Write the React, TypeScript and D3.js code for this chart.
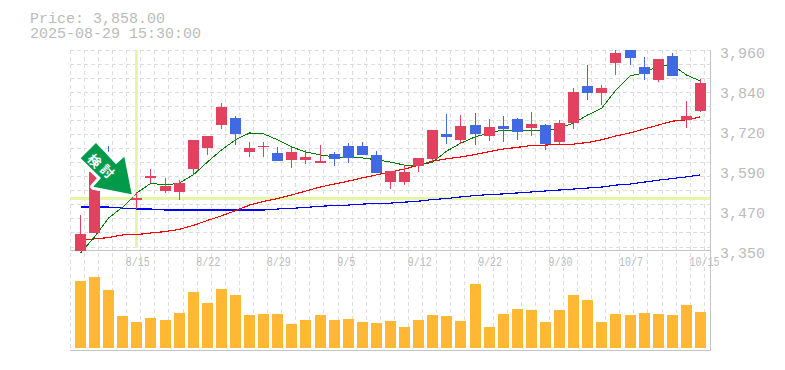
import React from "react";
import * as d3 from "d3";

const W = 785, H = 370;
const opens = [3347,3402,3631,3609,3502,3570,3530,3527,3597,3661,3731,3753,3649,3664,3646,3625,3625,3615,3643,3667,3667,3640,3557,3557,3606,3628,3704,3686,3731,3698,3728,3750,3722,3731,3679,3737,3850,3829,3920,3960,3908,3869,3942,3747,3774];
const closes = [3399,3588,3594,3579,3509,3576,3545,3554,3686,3698,3786,3704,3661,3667,3621,3649,3634,3621,3628,3631,3640,3585,3591,3588,3631,3716,3695,3728,3704,3725,3719,3710,3734,3673,3737,3832,3829,3844,3951,3936,3887,3933,3881,3759,3859];
const highs = [3457,3600,3667,3615,3527,3597,3570,3563,3686,3698,3798,3759,3679,3679,3664,3664,3655,3670,3649,3676,3679,3652,3591,3609,3631,3716,3765,3762,3768,3750,3759,3753,3771,3734,3747,3844,3914,3853,3960,3960,3939,3933,3951,3804,3872];
const lows = [3347,3402,3585,3573,3475,3554,3524,3502,3582,3640,3719,3670,3634,3634,3621,3600,3612,3615,3606,3615,3640,3585,3536,3548,3588,3618,3673,3673,3670,3682,3679,3686,3698,3655,3673,3719,3807,3792,3884,3914,3869,3862,3881,3722,3771];
const volumes = [67,71,58,32,26,30,28,35,56,45,59,53,33,34,34,24,28,33,28,29,26,25,27,21,28,33,32,27,64,21,34,39,38,26,38,53,48,26,34,33,35,34,33,43,36];
const maShort = [3341,3390,3448,3481,3524,3554,3548,3554,3579,3618,3655,3686,3707,3704,3686,3664,3649,3640,3634,3631,3631,3625,3618,3609,3609,3618,3652,3676,3695,3707,3716,3716,3716,3713,3722,3737,3762,3783,3838,3881,3890,3911,3914,3884,3865];
const maMid = [3379,3384,3388,3396,3397,3402,3406,3413,3425,3440,3454,3470,3487,3498,3507,3518,3530,3542,3551,3560,3570,3579,3588,3597,3609,3621,3628,3634,3641,3650,3658,3663,3669,3670,3673,3673,3678,3686,3698,3707,3719,3731,3743,3747,3756];
const maLong = [3481,3481,3481,3478,3475,3475,3472,3472,3472,3472,3472,3472,3472,3472,3475,3477,3480,3483,3486,3487,3490,3492,3493,3496,3499,3504,3507,3512,3516,3519,3521,3524,3527,3530,3533,3536,3539,3542,3548,3551,3557,3563,3568,3573,3579];
const priceTicks = [3960, 3840, 3720, 3590, 3470, 3350];
const dateTicks: [number, string][] = [[4,"8/15"],[9,"8/22"],[14,"8/29"],[19,"9/5"],[24,"9/12"],[29,"9/22"],[34,"9/30"],[39,"10/7"],[44,"10/15"]];
const title = ["Price: 3,858.00", "2025-08-29 15:30:00"];
const crossPrice = 3509;
const crossIndex = 4;
const signalText = ["検", "討"];

const RED = "#e2415f", BLUE = "#4169e1", ORANGE = "#ffb833", GRAY = "#bbbbbb", AXIS = "#c4c4c4", GRID = "#dddddd", LIME = "#e6f5a8";
const MONO = "'Liberation Mono', monospace";

const x = d3.scaleLinear().domain([0, 44]).range([80.5, 700.5]);
const y = d3.scaleLinear().domain([3350, 3960]).range([250, 50]);
const yv = d3.scaleLinear().domain([0, 100]).range([348, 248]);
const L = 70, R = 710;
const gridX = d3.range(0, 46).map((i) => Math.floor(70.3 + 14.09 * i) + 0.5);
const gridY = d3.range(0, 15).map((i) => Math.floor(50.3 + 14.05 * i) + 0.5);
const line = (vals: number[]) =>
  d3.line<number>().x((_, i) => x(i)).y((v) => y(v))(vals) as string;

export default function App() {
  return (
    <svg width={W} height={H} style={{ position: "absolute", left: 0, top: 0, background: "#fff" }}>
      <g stroke={GRID} strokeDasharray="4 3" shapeRendering="crispEdges">
        {gridX.map((g, i) => <line key={i} x1={g} x2={g} y1={50} y2={350} />)}
        {gridY.map((g, i) => <line key={i} x1={L} x2={R} y1={g} y2={g} />)}
      </g>
      <g stroke={AXIS} strokeWidth={1} shapeRendering="crispEdges">
        <line x1={L} x2={R} y1={250.5} y2={250.5} />
        <line x1={L} x2={R} y1={350.5} y2={350.5} />
        <line x1={710.5} x2={710.5} y1={50} y2={351} />
      </g>
      <g fill={LIME} shapeRendering="crispEdges">
        <rect x={Math.round(x(crossIndex)) - 2} y={50} width={3} height={198} />
        <rect x={L} y={Math.round(y(crossPrice)) - 1} width={R - L} height={3} />
      </g>
      <g fill="none" strokeLinejoin="round" shapeRendering="crispEdges">
        <path d={line(maLong)} stroke="#0000ff" strokeWidth={1.15} />
        <path d={line(maMid)} stroke="#ff0000" strokeWidth={1.15} />
        <path d={line(maShort)} stroke="#007a00" strokeWidth={1} />
      </g>
      <g shapeRendering="crispEdges">
        {opens.map((o, i) => {
          const c = closes[i];
          const col = c >= o ? RED : BLUE;
          const cx = x(i);
          const top = y(Math.max(o, c));
          const bot = y(Math.min(o, c));
          return (
            <g key={i} fill={col}>
              <rect x={Math.floor(cx)} y={y(highs[i])} width={1} height={y(lows[i]) - y(highs[i])} />
              <rect x={Math.round(cx - 5.5)} y={top} width={11} height={Math.max(1, bot - top)} />
            </g>
          );
        })}
      </g>
      <g fill={ORANGE} shapeRendering="crispEdges">
        {volumes.map((v, i) => (
          <rect key={i} x={Math.round(x(i) - 5.5)} y={yv(v)} width={11} height={yv(0) - yv(v)} />
        ))}
      </g>
      <polygon
        points="96,143 80.7,158.3 101,178 93.3,186.7 131.7,194.3 124.3,156.7 116,164.3"
        fill="#ffffff"
        stroke="#ffffff"
        strokeWidth={6}
        strokeLinejoin="round"
      />
      <polygon
        points="96,143 80.7,158.3 101,178 93.3,186.7 131.7,194.3 124.3,156.7 116,164.3"
        fill="#009a4a"
      />
      {signalText.map((t, i) => (
        <text
          key={t}
          transform={`translate(${95 + i * 12.7},${160.5 + i * 10.5}) rotate(45)`}
          textAnchor="middle"
          dominantBaseline="central"
          fontFamily="'Noto Sans CJK JP'"
          fontWeight={700}
          fontSize={13}
          fill="#ffffff"
        >
          {t}
        </text>
      ))}
      <g fontFamily={MONO} fill={GRAY}>
        {title.map((t, i) => (
          <text key={i} x={30} y={23 + i * 15} fontSize={15}>{t}</text>
        ))}
        {priceTicks.map((p, i) => (
          <text key={p} x={720} y={58 + i * 40} fontSize={15}>{d3.format(",")(p)}</text>
        ))}
        {dateTicks.map(([idx, t]) => (
          <text key={t} x={x(idx) - 11} y={266} fontSize={13} textLength={t.length * 6} lengthAdjust="spacingAndGlyphs">{t}</text>
        ))}
      </g>
    </svg>
  );
}
